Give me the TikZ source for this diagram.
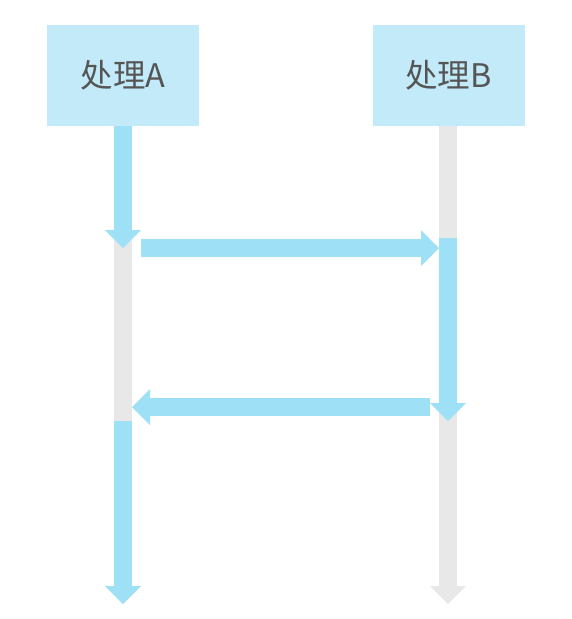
\documentclass[tikz,border=0pt]{standalone}
\usepackage{fontspec}
\newfontfamily\cjk{Noto Sans CJK SC}
\definecolor{boxblue}{RGB}{194,234,248}
\definecolor{flowblue}{RGB}{158,224,246}
\definecolor{lifegray}{RGB}{232,232,232}
\definecolor{textgray}{RGB}{85,85,85}
\tikzset{
  procbox/.style={fill=boxblue, minimum width=152pt, minimum height=101pt, inner sep=0pt,
    font=\cjk\fontsize{32.5}{36}\selectfont, text=textgray},
}
\begin{document}
\begin{tikzpicture}[x=1pt,y=-1pt]
\useasboundingbox (0,0) rectangle (571,619);
\node[procbox] (A) at (123,75.5) {处理A};
\node[procbox] (B) at (448.5,75.5) {处理B};
% lifeline A
\fill[lifegray] (114,231) rectangle (132,421);
\fill[flowblue] (114,126) rectangle (132,231);
\fill[flowblue] (105,230) -- (141,230) -- (123,248) -- cycle;
\fill[flowblue] (114,421) rectangle (132,587);
\fill[flowblue] (105,586) -- (141,586) -- (123,604) -- cycle;
% lifeline B
\fill[lifegray] (439,126) rectangle (457,238);
\fill[lifegray] (439,404) rectangle (457,587);
\fill[flowblue] (439,238) rectangle (457,404);
\fill[flowblue] (430,403) -- (466,403) -- (448,421) -- cycle;
\fill[lifegray] (430,586) -- (466,586) -- (448,604) -- cycle;
% message A -> B
\fill[flowblue] (141,239) rectangle (422,257);
\fill[flowblue] (421,230) -- (439,248) -- (421,266) -- cycle;
% message B -> A
\fill[flowblue] (430,398) rectangle (149,416);
\fill[flowblue] (150,389) -- (132,407) -- (150,425) -- cycle;
\end{tikzpicture}
\end{document}
